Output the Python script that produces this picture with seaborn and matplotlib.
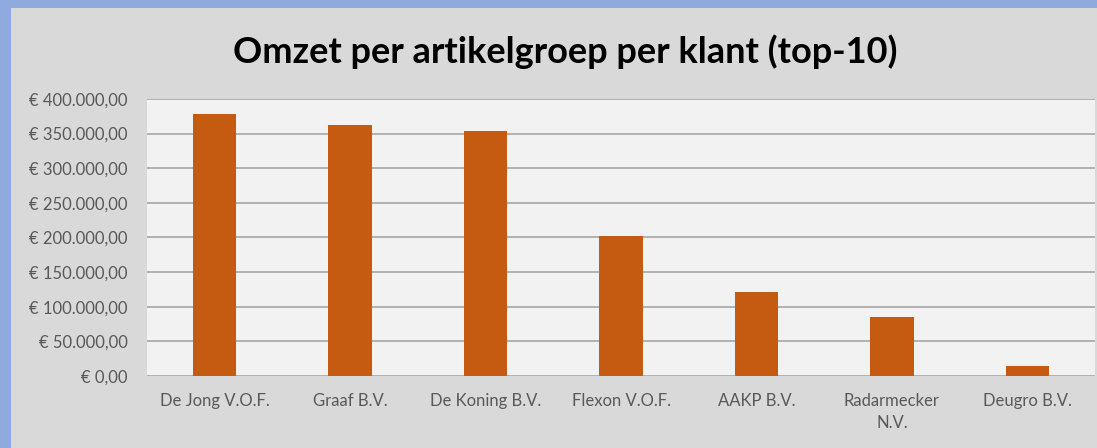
import pandas as pd
import matplotlib.pyplot as plt
import seaborn as sns
from matplotlib.patches import Rectangle
from matplotlib.ticker import FuncFormatter, MultipleLocator

# Data
klanten = ['De Jong V.O.F.', 'Graaf B.V.', 'De Koning B.V.', 'Flexon V.O.F.',
           'AAKP B.V.', 'Radarmecker N.V.', 'Deugro B.V.']
omzet = [378500, 362500, 353500, 202500, 121500, 84500, 14500]
tick_labels = ['De Jong V.O.F.', 'Graaf B.V.', 'De Koning B.V.', 'Flexon V.O.F.',
               'AAKP B.V.', 'Radarmecker\nN.V.', 'Deugro B.V.']

df = pd.DataFrame({'Klant': klanten, 'Omzet': omzet})

sns.set_style('white')
plt.rcParams['font.family'] = ['Lato', 'DejaVu Sans']

fig = plt.figure(figsize=(10.97, 4.48), dpi=100)
fig.patch.set_facecolor('#8FAADC')
# grey chart area inside the blue frame
fig.patches.append(Rectangle((11 / 1097, 0), 1, 440 / 448, transform=fig.transFigure,
                             facecolor='#D9D9D9', edgecolor='none', zorder=-10))

ax = fig.add_axes([147 / 1097, 72 / 448, 948 / 1097, 277 / 448])
ax.set_zorder(1)
ax.set_facecolor('#F2F2F2')

sns.barplot(data=df, x='Klant', y='Omzet', color='#C55A11', width=0.32,
            saturation=1, linewidth=0, ax=ax, zorder=3)

ax.set_ylim(0, 400000)
ax.set_xlim(-0.5, len(klanten) - 0.5)
ax.yaxis.set_major_locator(MultipleLocator(50000))


def euro(v, pos):
    s = f'{v:,.2f}'.replace(',', 'X').replace('.', ',').replace('X', '.')
    return f'€ {s}'


ax.yaxis.set_major_formatter(FuncFormatter(euro))
ax.set_xticks(range(len(klanten)))
ax.set_xticklabels(tick_labels, linespacing=1.45, va='top')
ax.grid(axis='y', color='#A6A6A6', linewidth=1.2, zorder=0)
ax.set_axisbelow(True)
for s in ax.spines.values():
    s.set_visible(False)
ax.tick_params(axis='y', length=0, pad=14, labelsize=12, labelcolor='#595959')
ax.tick_params(axis='x', length=0, pad=12, labelsize=12, labelcolor='#595959')
ax.set_xlabel('')
ax.set_ylabel('')

fig.text(0.515, 0.885, 'Omzet per artikelgroep per klant (top-10)', ha='center',
         va='center', fontsize=26, fontweight='bold', color='black')

fig.savefig('out.png', dpi=100, facecolor=fig.get_facecolor())
